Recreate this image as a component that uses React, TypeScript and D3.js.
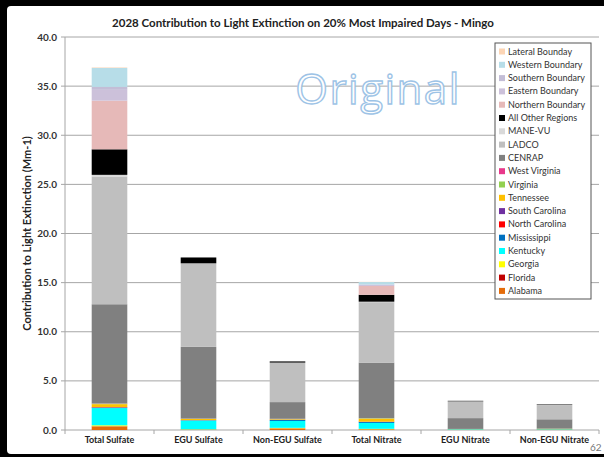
import React from 'react'
import { scaleBand, scaleLinear, stack, range, format } from 'd3'

const categories = ['Total Sulfate', 'EGU Sulfate', 'Non-EGU Sulfate', 'Total Nitrate', 'EGU Nitrate', 'Non-EGU Nitrate']

// values per source, same order as categories (Mm-1)
const alabama = [0.35, 0.03, 0.15, 0.05, 0.01, 0.02]
const florida = [0.03, 0.01, 0.02, 0.02, 0, 0]
const georgia = [0.1, 0.03, 0.05, 0.05, 0.01, 0.01]
const kentucky = [1.75, 0.9, 0.7, 0.6, 0.05, 0.04]
const mississippi = [0.05, 0.02, 0.1, 0.1, 0.01, 0.01]
const northCarolina = [0.03, 0.01, 0.02, 0.02, 0, 0]
const southCarolina = [0.02, 0.01, 0.01, 0.01, 0, 0]
const tennessee = [0.3, 0.12, 0.05, 0.3, 0.01, 0.01]
const virginia = [0.05, 0.02, 0.03, 0.05, 0.02, 0.05]
const westVirginia = [0.02, 0.01, 0.01, 0.01, 0, 0]
const cenrap = [10.1, 7.3, 1.7, 5.65, 1.1, 0.95]
const ladco = [13.0, 8.45, 4.0, 6.15, 1.7, 1.45]
const maneVu = [0.17, 0.05, 0.02, 0.05, 0.01, 0.01]
const allOther = [2.6, 0.6, 0.12, 0.7, 0.05, 0.05]
const northern = [4.95, 0, 0, 0.9, 0, 0]
const eastern = [1.1, 0, 0, 0.1, 0, 0]
const southern = [0.3, 0, 0, 0.05, 0, 0]
const western = [1.93, 0, 0, 0.25, 0, 0]
const lateral = [0.05, 0, 0, 0.02, 0, 0]

const yTicks = range(0, 45, 5)

// bottom to top
const sources = [
  { name: 'Alabama', values: alabama, color: '#e46c0a' },
  { name: 'Florida', values: florida, color: '#c00000' },
  { name: 'Georgia', values: georgia, color: '#ffff00' },
  { name: 'Kentucky', values: kentucky, color: '#00ffff' },
  { name: 'Mississippi', values: mississippi, color: '#0070c0' },
  { name: 'North Carolina', values: northCarolina, color: '#ff0000' },
  { name: 'South Carolina', values: southCarolina, color: '#7030a0' },
  { name: 'Tennessee', values: tennessee, color: '#ffc000' },
  { name: 'Virginia', values: virginia, color: '#92d050' },
  { name: 'West Virginia', values: westVirginia, color: '#e8388a' },
  { name: 'CENRAP', values: cenrap, color: '#808080' },
  { name: 'LADCO', values: ladco, color: '#bfbfbf' },
  { name: 'MANE-VU', values: maneVu, color: '#d9d9d9' },
  { name: 'All Other Regions', values: allOther, color: '#000000' },
  { name: 'Northern Boundary', values: northern, color: '#e6b9b8' },
  { name: 'Eastern Boundary', values: eastern, color: '#ccc1da' },
  { name: 'Southern Boundary', values: southern, color: '#c3bdd6' },
  { name: 'Western Boundary', values: western, color: '#b7dde8' },
  { name: 'Lateral Bounday', values: lateral, color: '#fcd5b5' },
]

const W = 604, H = 457
const m = { top: 37, right: 5, bottom: 27, left: 65 }
const font = 'Lato, "Open Sans", sans-serif'

export default function App() {
  const x = scaleBand<string>().domain(categories)
    .range([m.left, W - m.right]).paddingInner(0.6).paddingOuter(0.3)
  const y = scaleLinear().domain([0, 40]).range([H - m.bottom, m.top])
  const rows = categories.map((c, i) => {
    const r: any = { cat: c }
    sources.forEach(s => { r[s.name] = s.values[i] })
    return r
  })
  const layers = stack<any>().keys(sources.map(s => s.name))(rows)
  const fmt = format('.1f')
  const step = x.step()
  const legendItems = sources.slice().reverse()
  const lx = 495, ly = 43, lh = 13.3

  return (
    <svg width={W} height={H} style={{ position: 'absolute', left: 0, top: 0 }}>
      <rect x={0} y={0} width={W} height={H} fill="#000" />
      <rect x={7} y={6} width={W + 10} height={448} rx={4} fill="#fff" />
      <text x={303} y={27} textAnchor="middle" fontFamily={font} fontWeight="bold" fontSize={11.5} fill="#222">
        2028 Contribution to Light Extinction on 20% Most Impaired Days - Mingo
      </text>
      {yTicks.map(t => (
        <g key={t}>
          <line x1={m.left} x2={W - m.right} y1={y(t)} y2={y(t)} stroke="#a6a6a6" strokeWidth={1} />
          <line x1={m.left - 4} x2={m.left} y1={y(t)} y2={y(t)} stroke="#a6a6a6" />
          <text x={m.left - 8} y={y(t) + 3.5} textAnchor="end" fontFamily={font} fontWeight="bold" fontSize={10} fill="#333">{fmt(t)}</text>
        </g>
      ))}
      <line x1={m.left} x2={m.left} y1={m.top} y2={y(0)} stroke="#a6a6a6" />
      {range(categories.length + 1).map(i => (
        <line key={i} x1={m.left + i * step} x2={m.left + i * step} y1={y(0)} y2={y(0) + 4} stroke="#a6a6a6" />
      ))}
      <text transform={`translate(31,${(m.top + y(0)) / 2}) rotate(-90)`} textAnchor="middle"
        fontFamily={font} fontWeight="bold" fontSize={11} fill="#222">
        Contribution to Light Extinction (Mm-1)
      </text>
      <text x={378} y={104} textAnchor="middle" fontFamily={'"Open Sans", sans-serif'} fontSize={42}
        fill="#fff" stroke="#9dc3e6" strokeWidth={1.4} letterSpacing={1.5}>Original</text>
      {layers.map((layer, li) => (
        <g key={layer.key} fill={sources[li].color}>
          {layer.map((d: any) => d[1] - d[0] > 0 ? (
            <rect key={d.data.cat} x={x(d.data.cat)} width={x.bandwidth()}
              y={y(d[1])} height={y(d[0]) - y(d[1])} />
          ) : null)}
        </g>
      ))}
      {categories.map(c => (
        <text key={c} x={(x(c) as number) + x.bandwidth() / 2} y={443} textAnchor="middle"
          fontFamily={font} fontWeight="bold" fontSize={9} fill="#222">{c}</text>
      ))}
      <rect x={lx} y={ly} width={96} height={256} fill="#fff" stroke="#555" strokeWidth={1} />
      {legendItems.map((s, i) => (
        <g key={s.name} transform={`translate(${lx + 4},${ly + 9 + i * lh})`}>
          <rect x={0} y={-3.5} width={6} height={6} fill={s.color} />
          <text x={9} y={2.5} fontFamily={font} fontSize={9} fill="#333">{s.name}</text>
        </g>
      ))}
      <text x={590} y={451} fontFamily={font} fontSize={10} fill="#777">62</text>
    </svg>
  )
}
